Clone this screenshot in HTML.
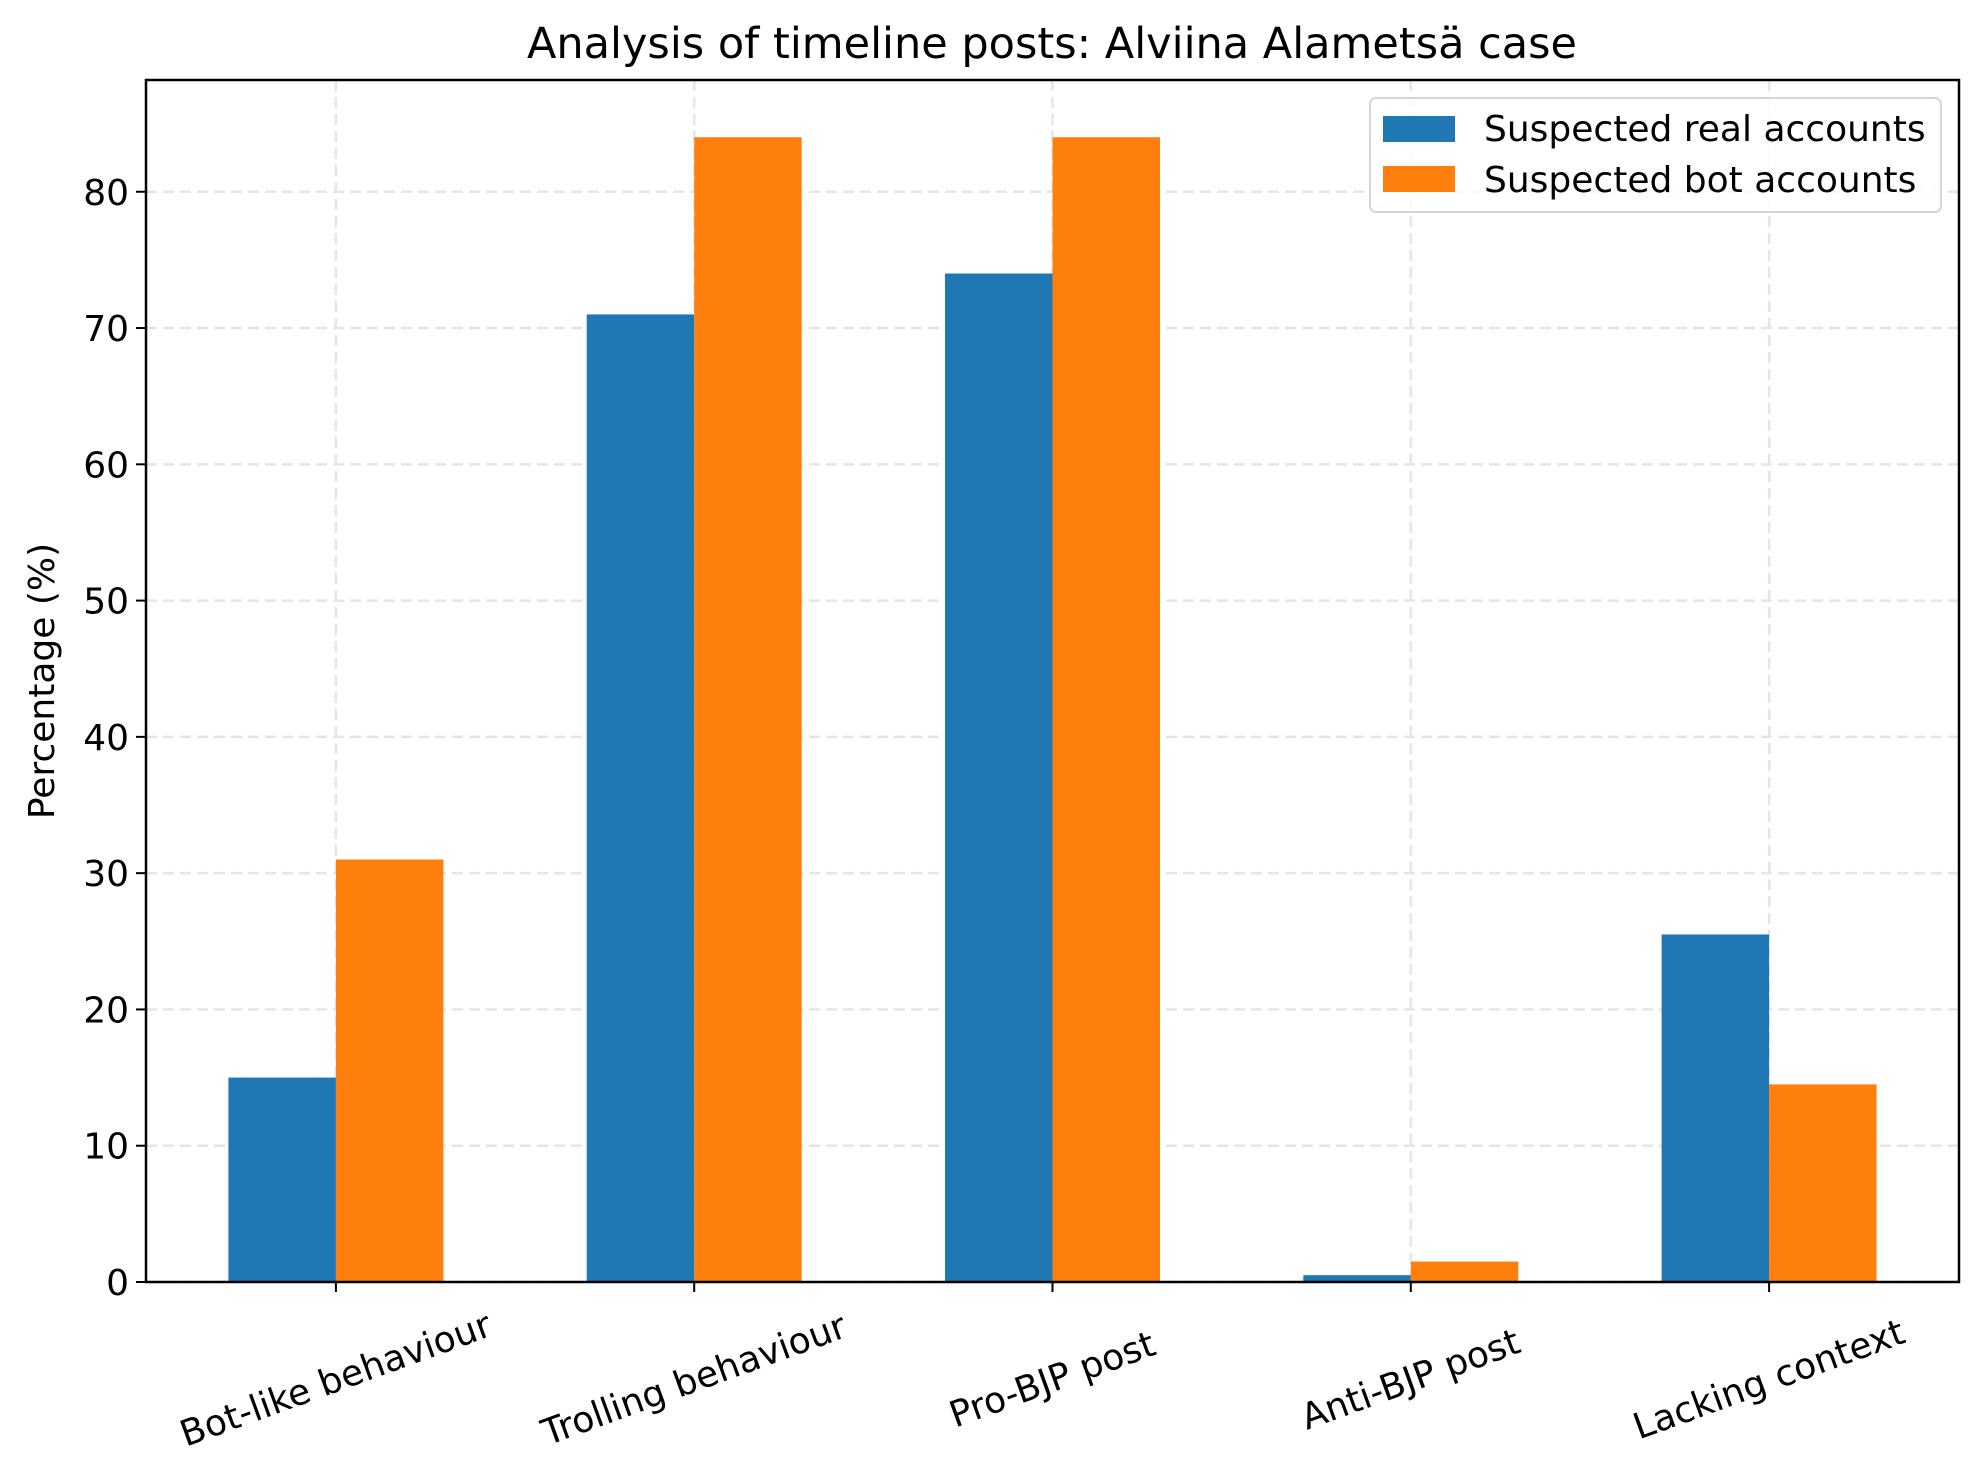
<!DOCTYPE html>
<html><head><meta charset="utf-8"><style>
html,body{margin:0;padding:0;background:#fff;}
svg{display:block;font-family:"DejaVu Sans","Liberation Sans",sans-serif;}
</style></head><body>
<svg id="chart" width="1985" height="1477" viewBox="0 0 1985 1477" xmlns="http://www.w3.org/2000/svg">
<rect width="1985" height="1477" fill="#fff"/>
<text x="1052" y="58" text-anchor="middle" font-size="43">Analysis of timeline posts: Alviina Alametsä case</text>
<g id="grid"></g>
<g id="bars"></g>
<g id="axes"></g>
<text transform="translate(54,681) rotate(-90)" text-anchor="middle" font-size="36">Percentage (%)</text>
<g>
<rect x="1370" y="98" width="571" height="114" rx="6" fill="#fff" fill-opacity="0.8" stroke="#d5d5d5" stroke-width="2"/>
<rect x="1383" y="116" width="72" height="26" fill="#1f77b4"/>
<text x="1484" y="141" font-size="36">Suspected real accounts</text>
<rect x="1383" y="166" width="72" height="26" fill="#ff7f0e"/>
<text x="1484" y="192" font-size="36">Suspected bot accounts</text>
</g>
</svg>
<script>
const categories = ["Bot-like behaviour","Trolling behaviour","Pro-BJP post","Anti-BJP post","Lacking context"];
const realValues = [15, 71, 74, 0.5, 25.5];
const botValues = [31, 84, 84, 1.5, 14.5];
const yTicks = [0,10,20,30,40,50,60,70,80];

const NS = "http://www.w3.org/2000/svg";
const L=146, R=1959, T=80, B=1282;
const xMin=-0.53, xMax=4.53, yMin=0, yMax=88.2;
const xs = v => L + (v - xMin)/(xMax - xMin)*(R-L);
const ys = v => B - (v - yMin)/(yMax - yMin)*(B-T);
const bw = 0.3;
function mk(tag, attrs, parent){const e=document.createElementNS(NS,tag);for(const k in attrs)e.setAttribute(k,attrs[k]);parent.appendChild(e);return e;}
const grid=document.getElementById('grid'), bars=document.getElementById('bars'), axes=document.getElementById('axes');

yTicks.forEach(t=>{
  const y=ys(t);
  const g=mk('line',{x1:L,x2:R,y1:y,y2:y,stroke:'#e3e5e9','stroke-width':2.5,'stroke-dasharray':'11 6'},grid);
  
  
  const tk=mk('line',{x1:L-10,x2:L,y1:y,y2:y,stroke:'#000','stroke-width':2},axes);
  
  
  const lb=mk('text',{x:L-17,y:y+13,'text-anchor':'end','font-size':36},axes);
  lb.textContent=t;
  
  
});
categories.forEach((c,i)=>{
  const x=xs(i);
  const g=mk('line',{x1:x,x2:x,y1:T,y2:B,stroke:'#e3e5e9','stroke-width':2.5,'stroke-dasharray':'11 6'},grid);
  
  
  const b1=mk('rect',{x:xs(i-bw),y:ys(realValues[i]),width:xs(i)-xs(i-bw),height:ys(0)-ys(realValues[i]),fill:'#1f77b4'},bars);
  
  
  const b2=mk('rect',{x:xs(i),y:ys(botValues[i]),width:xs(i+bw)-xs(i),height:ys(0)-ys(botValues[i]),fill:'#ff7f0e'},bars);
  
  
  const tk=mk('line',{x1:x,x2:x,y1:B,y2:B+10,stroke:'#000','stroke-width':2},axes);
  
  
  const lb=mk('text',{x:0,y:0,'text-anchor':'middle','dominant-baseline':'central','font-size':36,transform:`translate(${x},1380) rotate(-20)`},axes);
  lb.textContent=c;
  
  
});
const frame=mk('rect',{x:L,y:T,width:R-L,height:B-T,fill:'none',stroke:'#000','stroke-width':2.5},axes);


</script>
</body></html>
